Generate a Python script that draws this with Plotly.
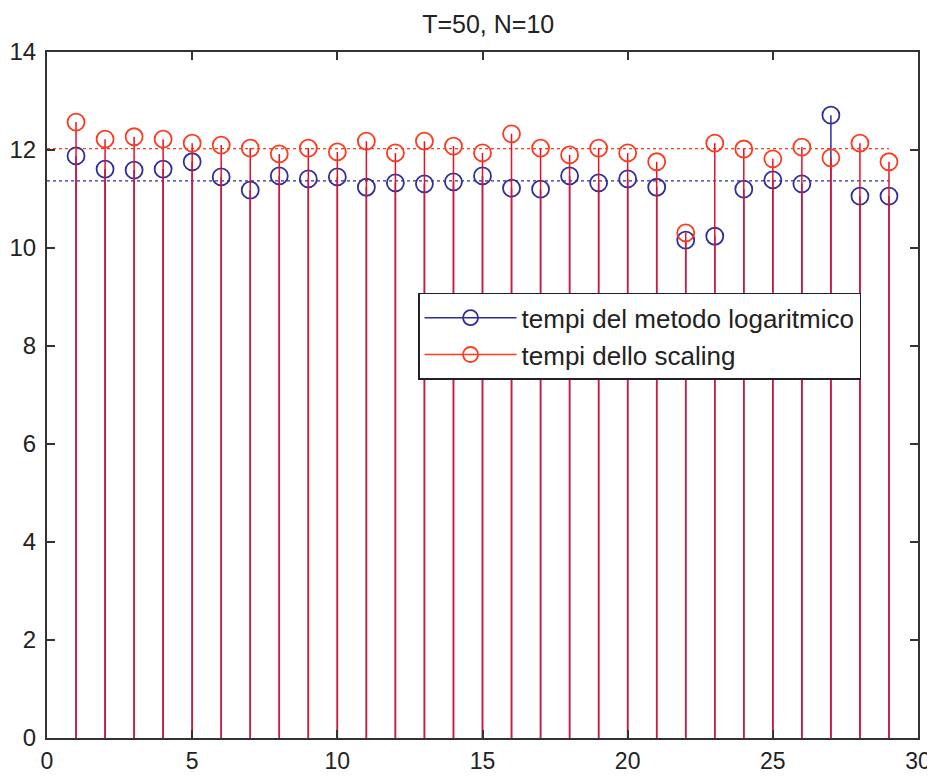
import plotly.graph_objects as go

x_idx = list(range(1, 30))
tempi_log = [11.88, 11.61, 11.59, 11.61, 11.76, 11.45, 11.18, 11.47, 11.41, 11.45,
             11.24, 11.33, 11.31, 11.35, 11.47, 11.22, 11.20, 11.47, 11.33, 11.41,
             11.24, 10.16, 10.24, 11.20, 11.39, 11.31, 12.71, 11.06, 11.06]
tempi_scaling = [12.57, 12.22, 12.27, 12.22, 12.14, 12.10, 12.04, 11.92, 12.04, 11.96,
                 12.18, 11.94, 12.18, 12.08, 11.94, 12.33, 12.04, 11.90, 12.04, 11.94,
                 11.76, 10.31, 12.14, 12.02, 11.82, 12.06, 11.84, 12.14, 11.76]
mean_log = 11.37
mean_scaling = 12.03
mean_x = [0, 29]

blue = "#2e2e9c"
red = "#ff3a1c"
stem_red = "#e8102a"

fig = go.Figure()

fig.add_trace(go.Scatter(x=mean_x, y=[mean_log, mean_log], mode="lines",
                         line=dict(color=blue, width=1.2, dash="dot"), showlegend=False,
                         hoverinfo="skip"))
fig.add_trace(go.Scatter(x=mean_x, y=[mean_scaling, mean_scaling], mode="lines",
                         line=dict(color=red, width=1.2, dash="dot"), showlegend=False,
                         hoverinfo="skip"))

fig.add_trace(go.Scatter(
    x=x_idx, y=tempi_log, mode="markers", showlegend=False,
    marker=dict(symbol="circle-open", size=17, color=blue, line=dict(width=1.8, color=blue)),
    error_y=dict(type="data", symmetric=False, array=[0] * len(tempi_log),
                 arrayminus=tempi_log, width=0, thickness=1.5, color=blue),
))
fig.add_trace(go.Scatter(
    x=x_idx, y=tempi_scaling, mode="markers", showlegend=False,
    marker=dict(symbol="circle-open", size=17, color=red, line=dict(width=1.8, color=red)),
    error_y=dict(type="data", symmetric=False, array=[0] * len(tempi_scaling),
                 arrayminus=tempi_scaling, width=0, thickness=1.5, color=stem_red),
))

# legend entries (line + open circle, as in the original)
fig.add_trace(go.Scatter(
    x=[None], y=[None], mode="lines+markers", name="tempi del metodo logaritmico",
    line=dict(color=blue, width=1.5),
    marker=dict(symbol="circle-open", size=15, color=blue, line=dict(width=1.8, color=blue)),
))
fig.add_trace(go.Scatter(
    x=[None], y=[None], mode="lines+markers", name="tempi dello scaling",
    line=dict(color=red, width=1.5),
    marker=dict(symbol="circle-open", size=15, color=red, line=dict(width=1.8, color=red)),
))

axis_common = dict(showgrid=False, zeroline=False, showline=True, linecolor="#333333",
                   linewidth=2, mirror="ticks", ticks="inside", ticklen=8, tickwidth=1.5,
                   tickcolor="#333333", automargin=False)

fig.update_layout(
    width=927, height=768,
    margin=dict(l=39, r=17, t=44, b=38),
    paper_bgcolor="white", plot_bgcolor="white",
    font=dict(family="Liberation Sans, Arial, sans-serif", color="#222222"),
    title=dict(text="T=50, N=10", x=0.518, xanchor="center", y=0.979, yanchor="middle",
               font=dict(size=25, color="#222222"), automargin=False),
    xaxis=dict(range=[0, 30], tickvals=[0, 5, 10, 15, 20, 25, 30], ticklabelstandoff=1,
               tickfont=dict(size=23, color="#222222"), **axis_common),
    yaxis=dict(range=[0, 14], tickvals=[0, 2, 4, 6, 8, 10, 12, 14], ticklabelstandoff=4,
               tickfont=dict(size=24, color="#222222"), **axis_common),
    legend=dict(x=0.426, y=0.649, xanchor="left", yanchor="top",
                bgcolor="white", bordercolor="#222222", borderwidth=1.5,
                font=dict(size=26, color="#222222"), itemwidth=92),
    showlegend=True,
)

fig.write_html("out.html")
